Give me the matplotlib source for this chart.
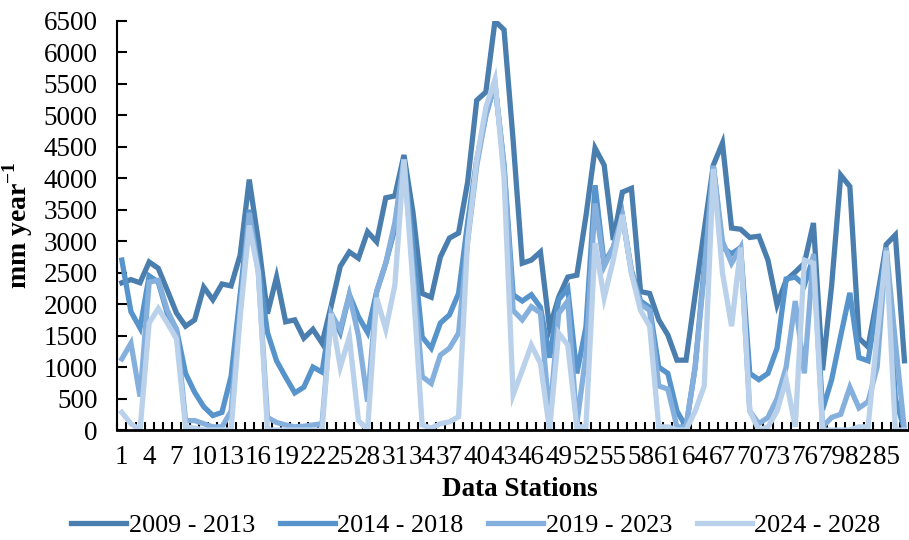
import matplotlib
matplotlib.use("Agg")
import matplotlib.pyplot as plt
import numpy as np

plt.rcParams['font.family'] = ['Liberation Serif', 'DejaVu Serif']
plt.rcParams['mathtext.fontset'] = 'custom'
plt.rcParams['mathtext.rm'] = 'Liberation Serif'
plt.rcParams['mathtext.bf'] = 'Liberation Serif:bold'

# mm/year per data station
s_2009_2013 = [2340, 2390, 2340, 2670, 2570, 2220, 1860, 1650, 1750, 2270,
               2070, 2320, 2290, 2780, 3980, 3000, 1850, 2430, 1720, 1750,
               1460, 1600, 1380, 1970, 2600, 2830, 2730, 3150, 2990, 3690,
               3720, 4370, 3450, 2170, 2110, 2750, 3050, 3130, 3940, 5240,
               5370, 6500, 6360, 4600, 2650, 2700, 2830, 1620, 2110, 2430,
               2460, 3400, 4480, 4210, 3020, 3780, 3840, 2200, 2170, 1750,
               1510, 1110, 1110, 2150, 3180, 4210, 4560, 3210, 3190, 3060,
               3080, 2700, 1990, 2380, 2510, 2650, 3290, 950, 2300, 4050,
               3870, 1460, 1320, 2100, 2950, 3100, 1100]
s_2014_2018 = [2700, 1880, 1620, 2450, 2350, 1850, 1600, 900, 600, 370,
               230, 280, 850, 2150, 3500, 2600, 1550, 1100, 840, 590,
               680, 1000, 920, 1850, 1550, 2150, 1800, 1550, 2200, 2650,
               3200, 4300, 2900, 1480, 1300, 1700, 1830, 2170, 3300, 4300,
               5000, 5500, 4200, 2150, 2050, 2150, 1950, 1150, 2070, 2250,
               900, 1640, 3890, 2650, 2900, 3420, 2540, 2050, 1950, 1000,
               900, 300, 50, 1000, 2600, 4200, 2900, 2800, 2900, 900,
               800, 900, 1300, 2400, 2430, 2300, 2750, 320, 800, 1500,
               2180, 1150, 1100, 2000, 2870, 500, 0]
s_2019_2023 = [1130, 1380, 530, 2350, 2380, 1900, 1600, 150, 150, 100,
               50, 50, 300, 1900, 3450, 2500, 200, 120, 80, 50,
               60, 80, 100, 1850, 1600, 2150, 1500, 450, 2200, 2650,
               3300, 4300, 2500, 850, 740, 1190, 1300, 1540, 3000, 4200,
               5000, 5500, 4200, 1900, 1750, 1960, 1860, 200, 1850, 2050,
               100, 1200, 3600, 2600, 2900, 3400, 2500, 2000, 1900, 700,
               650, 50, 50, 1000, 2500, 4200, 3000, 2650, 2900, 300,
               100, 200, 500, 1000, 2050, 900, 2800, 50, 200, 250,
               680, 350, 450, 1000, 2900, 1400, 0]
s_2024_2028 = [280, 100, 0, 1700, 1930, 1700, 1450, 50, 30, 0,
               0, 0, 0, 1800, 3250, 2500, 0, 0, 0, 0,
               0, 0, 0, 1850, 1000, 1480, 150, 0, 2100, 1600,
               2300, 4300, 2300, 80, 30, 100, 130, 210, 3020, 4290,
               5130, 5570, 4000, 560, 950, 1350, 1060, 0, 1540, 1350,
               50, 50, 2970, 2100, 2700, 3420, 2490, 1900, 1650, 50,
               50, 0, 0, 300, 700, 4150, 2500, 1650, 2900, 300,
               0, 50, 300, 800, 50, 2700, 2650, 0, 0, 0,
               0, 50, 50, 1500, 2850, 0, 0]

periods = ['2009 - 2013', '2014 - 2018', '2019 - 2023', '2024 - 2028']
colors = ['#4A7EAE', '#5694CB', '#85B0DD', '#B9D1EB']

stations = np.arange(1, len(s_2009_2013) + 1)

fig = plt.figure(figsize=(9.09, 5.4), dpi=100)
ax = fig.add_axes([117.3 / 909, 110 / 540, (909 - 117.3) / 909, 409 / 540])

for vals, lab, col in zip([s_2009_2013, s_2014_2018, s_2019_2023, s_2024_2028],
                          periods, colors):
    ax.plot(stations, vals, color=col, lw=3.8, label=lab,
            solid_joinstyle='miter')

ax.set_ylim(0, 6500)
ax.set_xlim(0.5, 0.5 + (909 - 117.3) / 9.17)
ax.set_yticks(np.arange(0, 6501, 500))
ax.tick_params(axis='y', direction='in', length=7, width=1.5, pad=14, labelsize=19.5)

# ticks on category boundaries, labels every third station
ax.set_xticks(np.arange(0.5, len(stations) + 1, 1))
ax.set_xticklabels([])
ax.tick_params(axis='x', which='major', direction='in', length=6, width=1.5)
ax.set_xticks(stations[::3], [str(s) for s in stations[::3]], minor=True)
ax.tick_params(axis='x', which='minor', length=0, pad=11, labelsize=19.5)

for side in ['top', 'right']:
    ax.spines[side].set_visible(False)
ax.spines['left'].set_linewidth(1.5)
ax.spines['bottom'].set_linewidth(2)

fig.text(520 / 909, 1 - 490 / 540, 'Data Stations', ha='center', va='center',
         fontsize=19.5, fontweight='bold')
fig.text(18 / 909, 1 - 225 / 540, r'mm year$^{\mathbf{-1}}$', rotation=90,
         ha='center', va='center', fontsize=20, fontweight='bold')

fig.legend(loc='center', bbox_to_anchor=(476 / 909, 1 - 525 / 540), ncol=4,
           frameon=False, fontsize=18.8, handlelength=2.1, handletextpad=0.1,
           columnspacing=0.95)

fig.savefig('out.png', dpi=100)
